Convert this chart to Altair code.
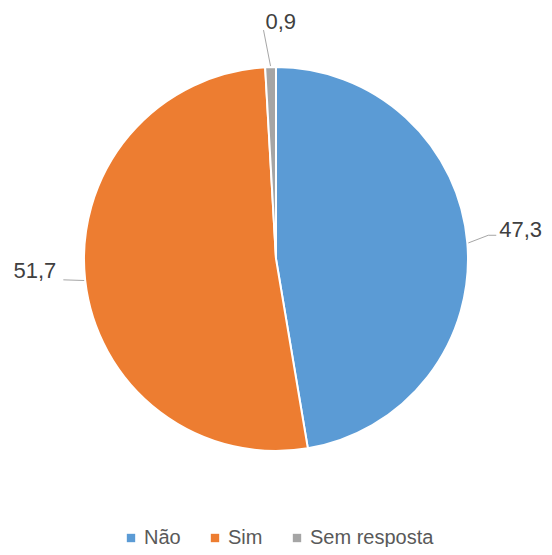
import altair as alt
import pandas as pd

categories = ["Não", "Sim", "Sem resposta"]
values = [47.3, 51.7, 0.9]
colors = ["#5B9BD5", "#ED7D31", "#A5A5A5"]

df = pd.DataFrame({"cat": categories, "value": values, "idx": list(range(len(categories)))})

CX, CY, R = 268, 251, 192

base = alt.Chart(df)

pie = base.mark_arc(outerRadius=R, stroke="white", strokeWidth=2).encode(
    theta=alt.Theta("value:Q", stack=True),
    order=alt.Order("idx:Q"),
    color=alt.Color(
        "cat:N",
        scale=alt.Scale(domain=categories, range=colors),
        sort=categories,
        legend=alt.Legend(
            title=None,
            orient="none",
            legendX=113,
            legendY=520,
            direction="horizontal",
            symbolType="square",
            symbolSize=70,
            symbolStrokeWidth=0,
            labelFontSize=20,
            labelFont="Liberation Sans",
            labelColor="#595959",
            labelOffset=3,
            columnPadding=24,
        ),
    ),
    x=alt.value(CX),
    y=alt.value(CY),
)

geo = base.transform_joinaggregate(total="sum(value)").transform_window(
    cum="sum(value)", sort=[alt.SortField("idx")], frame=[None, 0]
).transform_calculate(
    mid="(datum.cum - datum.value/2)/datum.total*2*PI",
    side="cos(datum.mid) > 0.9 ? 0 : (sin(datum.mid) > 0 ? 1 : -1)",
    lr="datum.side == 0 ? 229 : (datum.side == 1 ? 213 : 214)",
    ax=f"{CX} + {R+1}*sin(datum.mid)",
    ay=f"{CY} - {R+1}*cos(datum.mid)",
    lx=f"{CX} + datum.lr*sin(datum.mid) - (datum.side == 0 ? 6 : 0)",
    ly=f"{CY} - datum.lr*cos(datum.mid) - (datum.side == 0 ? 0 : (datum.side == 1 ? 6 : 3))",
    hx="datum.side == 1 ? datum.lx + 8 : datum.lx",
    tx="datum.side == 0 ? datum.lx + 2 : (datum.side == 1 ? datum.hx + 3 : datum.lx - 7)",
    ty="datum.side == 0 ? datum.ly - 1 : (datum.side == 1 ? datum.ly - 5.5 : datum.ly - 8.5)",
    lab="replace(format(datum.value, '.1f'), '.', ',')",
)

xs = dict(scale=None, axis=None)

leader = geo.mark_rule(color="#A6A6A6", strokeWidth=1).encode(
    x=alt.X("ax:Q", **xs),
    y=alt.Y("ay:Q", **xs),
    x2="lx:Q",
    y2="ly:Q",
)

hook = geo.transform_filter("datum.side == 1").mark_rule(color="#A6A6A6", strokeWidth=1).encode(
    x=alt.X("lx:Q", **xs),
    y=alt.Y("ly:Q", **xs),
    x2="hx:Q",
)

def label_layer(cond, align, baseline):
    return geo.transform_filter(cond).mark_text(
        align=align, baseline=baseline, fontSize=22, font="Liberation Sans", color="#404040"
    ).encode(
        x=alt.X("tx:Q", **xs),
        y=alt.Y("ty:Q", **xs),
        text="lab:N",
    )

txt_right = label_layer("datum.side == 1", "left", "middle")
txt_left = label_layer("datum.side == -1", "right", "middle")
txt_top = label_layer("datum.side == 0", "left", "alphabetic")

chart = alt.layer(pie, leader, hook, txt_right, txt_left, txt_top).properties(
    width=536, height=539, autosize=alt.AutoSizeParams(type="none"), padding=0,
    background="white",
).configure_view(stroke=None, strokeWidth=0).configure_axis(
    domain=False, ticks=False, labels=False, grid=False
)

chart.save("out.html", embed_options={"renderer": "svg", "actions": False})
